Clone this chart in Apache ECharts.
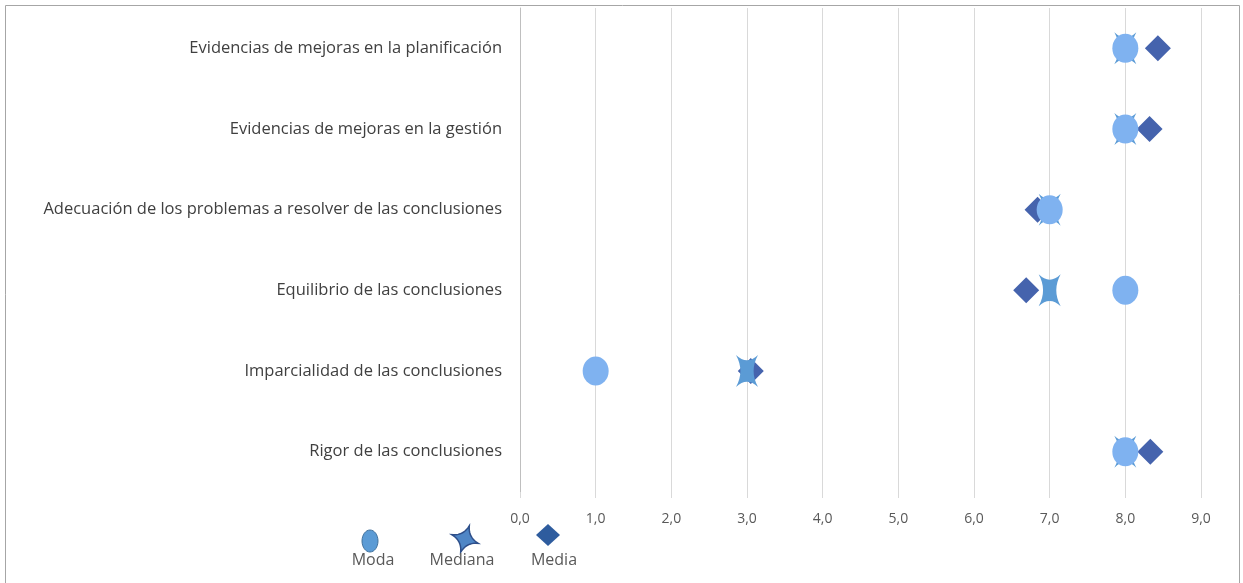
<!DOCTYPE html>
<html>
<head>
<meta charset="utf-8">
<script src="https://cdn.jsdelivr.net/npm/echarts@6/dist/echarts.min.js"></script>
<style>
  html, body { margin: 0; padding: 0; background: #fff; }
  #main { width: 1243px; height: 583px; }
</style>
</head>
<body>
<div id="main"></div>
<script>
// categorías, de arriba hacia abajo
const categories = [
  'Evidencias de mejoras en la planificación',
  'Evidencias de mejoras en la gestión',
  'Adecuación de los problemas a resolver de las conclusiones',
  'Equilibrio de las conclusiones',
  'Imparcialidad de las conclusiones',
  'Rigor de las conclusiones'
];
const moda    = [8, 8, 7, 8, 1, 8];
const mediana = [8, 8, 7, 7, 3, 8];
const media   = [8.43, 8.32, 6.84, 6.69, 3.05, 8.33];
const xTicks  = [0, 1, 2, 3, 4, 5, 6, 7, 8, 9];

const starPath = 'path://M-10,-15 Q0,-5 10,-15 Q2,0 10,15 Q0,5 -10,15 Q-2,0 -10,-15Z';

function toPoints(arr) {
  return arr.map((v, i) => [v, categories[i]]);
}

// estrella de 4 puntas para la leyenda (curvas cuadráticas muestreadas)
function starPolygon(cx, cy, r, rot) {
  const tips = [];
  for (let k = 0; k < 4; k++) {
    const a = rot + k * Math.PI / 2;
    tips.push([Math.cos(a) * r, Math.sin(a) * r]);
  }
  const pts = [];
  for (let k = 0; k < 4; k++) {
    const p0 = tips[k], p2 = tips[(k + 1) % 4];
    const am = rot + (k + 0.5) * Math.PI / 2;
    const c = [Math.cos(am) * r * 0.25, Math.sin(am) * r * 0.25];
    for (let t = 0; t < 1; t += 0.1) {
      const u = 1 - t;
      pts.push([cx + u * u * p0[0] + 2 * u * t * c[0] + t * t * p2[0],
                cy + u * u * p0[1] + 2 * u * t * c[1] + t * t * p2[1]]);
    }
  }
  return pts;
}

const chart = echarts.init(document.getElementById('main'));

const option = {
  animation: false,
  grid: { left: 520, right: 42, top: 8, bottom: 91 },
  xAxis: {
    type: 'value',
    min: xTicks[0],
    max: xTicks[xTicks.length - 1],
    interval: 1,
    axisLine: { show: false },
    axisTick: { show: true, length: 6, lineStyle: { color: '#D9D9D9' } },
    axisLabel: {
      margin: 20,
      color: '#595959',
      fontFamily: 'Open Sans',
      fontSize: 14,
      formatter: v => v.toFixed(1).replace('.', ',')
    },
    splitLine: { show: true, lineStyle: { color: '#D9D9D9', width: 1 } }
  },
  yAxis: {
    type: 'category',
    inverse: true,
    data: categories,
    axisLine: { show: true, lineStyle: { color: '#BFBFBF', width: 1 } },
    axisTick: { show: false },
    axisLabel: {
      margin: 18,
      color: '#404040',
      fontFamily: 'Open Sans',
      fontSize: 16.5
    },
    splitLine: { show: false }
  },
  series: [
    {
      name: 'Media',
      type: 'scatter',
      symbol: 'diamond',
      symbolSize: [26, 26],
      itemStyle: { color: '#4563AD', opacity: 1 },
      data: toPoints(media),
      z: 2
    },
    {
      name: 'Mediana',
      type: 'scatter',
      symbol: starPath,
      symbolSize: [22, 32],
      itemStyle: { color: '#5B9BD5', opacity: 1 },
      data: toPoints(mediana),
      z: 3
    },
    {
      name: 'Moda',
      type: 'scatter',
      symbol: 'circle',
      symbolSize: [26, 29],
      itemStyle: { color: '#7FB2F0', opacity: 1 },
      data: toPoints(moda),
      z: 4
    }
  ],
  graphic: [
    // marco
    {
      type: 'rect',
      shape: { x: 5.5, y: 5.5, width: 1234, height: 600 },
      style: { fill: null, stroke: '#A6A6A6', lineWidth: 1 },
      silent: true
    },
    // leyenda
    {
      type: 'ellipse',
      shape: { cx: 370, cy: 541, rx: 8, ry: 11 },
      style: { fill: '#5B9BD5', stroke: '#41719C', lineWidth: 1 }
    },
    {
      type: 'text', x: 373, y: 560,
      style: { text: 'Moda', fill: '#595959', font: '16px "Open Sans"', align: 'center', verticalAlign: 'middle' }
    },
    {
      type: 'polygon',
      shape: { points: starPolygon(465, 539, 14, -Math.PI / 2 + Math.PI / 10) },
      style: { fill: '#4F86C6', stroke: '#2E4F8A', lineWidth: 1.5 }
    },
    {
      type: 'text', x: 462, y: 560,
      style: { text: 'Mediana', fill: '#595959', font: '16px "Open Sans"', align: 'center', verticalAlign: 'middle' }
    },
    {
      type: 'polygon',
      shape: { points: [[548, 524], [560, 535], [548, 546], [536, 535]] },
      style: { fill: '#2E5C9E' }
    },
    {
      type: 'text', x: 554, y: 560,
      style: { text: 'Media', fill: '#595959', font: '16px "Open Sans"', align: 'center', verticalAlign: 'middle' }
    }
  ]
};

chart.setOption(option);
</script>
</body>
</html>
